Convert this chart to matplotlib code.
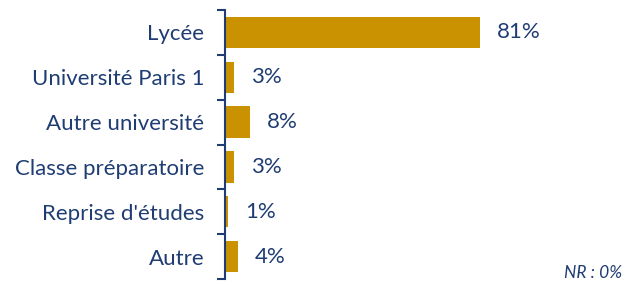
import matplotlib.pyplot as plt
from matplotlib.ticker import FixedLocator

categories = ["Lycée", "Université Paris 1", "Autre université",
              "Classe préparatoire", "Reprise d'études", "Autre"]
values = [81, 3, 8, 3, 1, 4]
nr_note = "NR : 0%"

bar_color = "#CA9100"
text_color = "#1F3D73"

plt.rcParams['font.family'] = ['Lato', 'DejaVu Sans']

fig = plt.figure(figsize=(6.37, 2.85), dpi=100)
ax = fig.add_axes([225 / 637, 6 / 285, 378 / 637, 269 / 285])

y = list(range(len(categories)))
ax.barh(y, values, height=0.7, color=bar_color)
ax.set_ylim(len(categories) - 0.5, -0.5)
ax.set_xlim(0, 120)

for yi, v in zip(y, values):
    ax.annotate(f"{v}%", (v, yi), xytext=(12, 0), textcoords="offset points",
                va="center", ha="left", fontsize=16, color=text_color)

ax.set_yticks(y)
ax.set_yticklabels(categories, fontsize=16, color=text_color)
ax.yaxis.set_minor_locator(FixedLocator([i - 0.5 for i in range(len(categories) + 1)]))
ax.tick_params(axis="y", which="major", length=0, pad=15)
ax.tick_params(axis="y", which="minor", length=6, width=1.5, color=text_color)
ax.set_xticks([])

for s in ["top", "right", "bottom"]:
    ax.spines[s].set_visible(False)
ax.spines["left"].set_color(text_color)
ax.spines["left"].set_linewidth(1.5)

fig.text(622 / 637, 1 - 278 / 285, nr_note, ha="right", va="baseline",
         fontsize=12.5, style="italic", color=text_color)

fig.savefig("out.png", dpi=100)
